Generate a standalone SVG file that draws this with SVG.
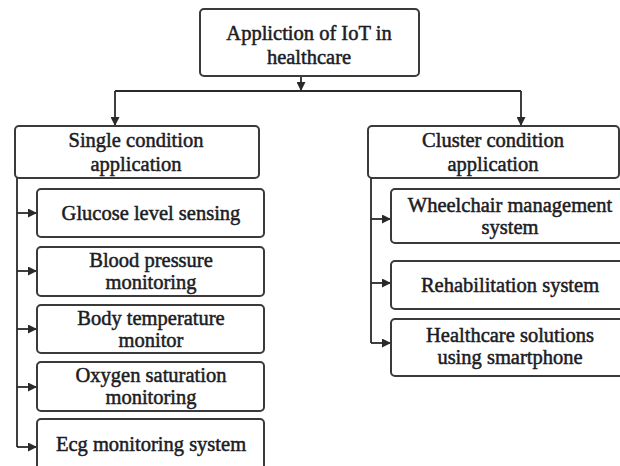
<svg xmlns="http://www.w3.org/2000/svg" width="620" height="466" viewBox="0 0 620 466">
<style>
.box{fill:#fff;stroke:#3a3a3a;stroke-width:2}
.t{font-family:"Liberation Serif","Times New Roman",serif;font-size:20.5px;fill:#1c1c24;stroke:#1c1c24;stroke-width:0.5;text-anchor:middle}
.c{fill:none;stroke:#2a2a2a;stroke-width:1.8}
</style>
<defs>
<marker id="ah" viewBox="0 0 10 10" refX="10" refY="5" markerWidth="5" markerHeight="5" orient="auto" markerUnits="strokeWidth">
<path d="M0,0 L10,5 L0,10 z" fill="#2a2a2a"/>
</marker>
</defs>
<rect width="620" height="466" fill="#fff"/>
<g id="connectors">
<path class="c" d="M301,76 V91" marker-end="url(#ah)"/>
<path class="c" d="M115,91 H521"/>
<path class="c" d="M115,91 V126" marker-end="url(#ah)"/>
<path class="c" d="M521,91 V126" marker-end="url(#ah)"/>
<path class="c" d="M17,178 V447"/>
<path class="c" d="M17,213 H37" marker-end="url(#ah)"/>
<path class="c" d="M17,271 H37" marker-end="url(#ah)"/>
<path class="c" d="M17,329 H37" marker-end="url(#ah)"/>
<path class="c" d="M17,387 H37" marker-end="url(#ah)"/>
<path class="c" d="M17,447 H37" marker-end="url(#ah)"/>
<path class="c" d="M371,178 V343"/>
<path class="c" d="M371,219 H391" marker-end="url(#ah)"/>
<path class="c" d="M371,283 H391" marker-end="url(#ah)"/>
<path class="c" d="M371,343 H391" marker-end="url(#ah)"/>
</g>
<g id="root">
<rect class="box" x="200" y="9" width="219" height="67" rx="4"/>
<text class="t" x="309" y="40">Appliction of IoT in</text>
<text class="t" x="309" y="64">healthcare</text>
</g>
<g id="single">
<rect class="box" x="15" y="126" width="244" height="52" rx="4"/>
<text class="t" x="136" y="147">Single condition</text>
<text class="t" x="136" y="171">application</text>
</g>
<g id="cluster">
<rect class="box" x="368" y="126" width="251" height="52" rx="4"/>
<text class="t" x="493" y="147">Cluster condition</text>
<text class="t" x="493" y="171">application</text>
</g>
<g id="glucose">
<rect class="box" x="37" y="189" width="227" height="48" rx="4"/>
<text class="t" x="151" y="220">Glucose level sensing</text>
</g>
<g id="blood">
<rect class="box" x="37" y="247" width="227" height="49" rx="4"/>
<text class="t" x="151" y="267">Blood pressure</text>
<text class="t" x="151" y="289">monitoring</text>
</g>
<g id="body">
<rect class="box" x="37" y="305" width="227" height="48" rx="4"/>
<text class="t" x="151" y="325">Body temperature</text>
<text class="t" x="151" y="347">monitor</text>
</g>
<g id="oxygen">
<rect class="box" x="37" y="362" width="227" height="49" rx="4"/>
<text class="t" x="151" y="382">Oxygen saturation</text>
<text class="t" x="151" y="404">monitoring</text>
</g>
<g id="ecg">
<rect class="box" x="37" y="419" width="227" height="52" rx="4"/>
<text class="t" x="151" y="451">Ecg monitoring system</text>
</g>
<g id="wheelchair">
<rect class="box" x="391" y="189" width="238" height="54" rx="4"/>
<text class="t" x="510" y="212">Wheelchair management</text>
<text class="t" x="510" y="234">system</text>
</g>
<g id="rehab">
<rect class="box" x="391" y="261" width="238" height="48" rx="4"/>
<text class="t" x="510" y="292">Rehabilitation system</text>
</g>
<g id="smartphone">
<rect class="box" x="391" y="319" width="238" height="57" rx="4"/>
<text class="t" x="510" y="342">Healthcare solutions</text>
<text class="t" x="510" y="364">using smartphone</text>
</g>
</svg>
